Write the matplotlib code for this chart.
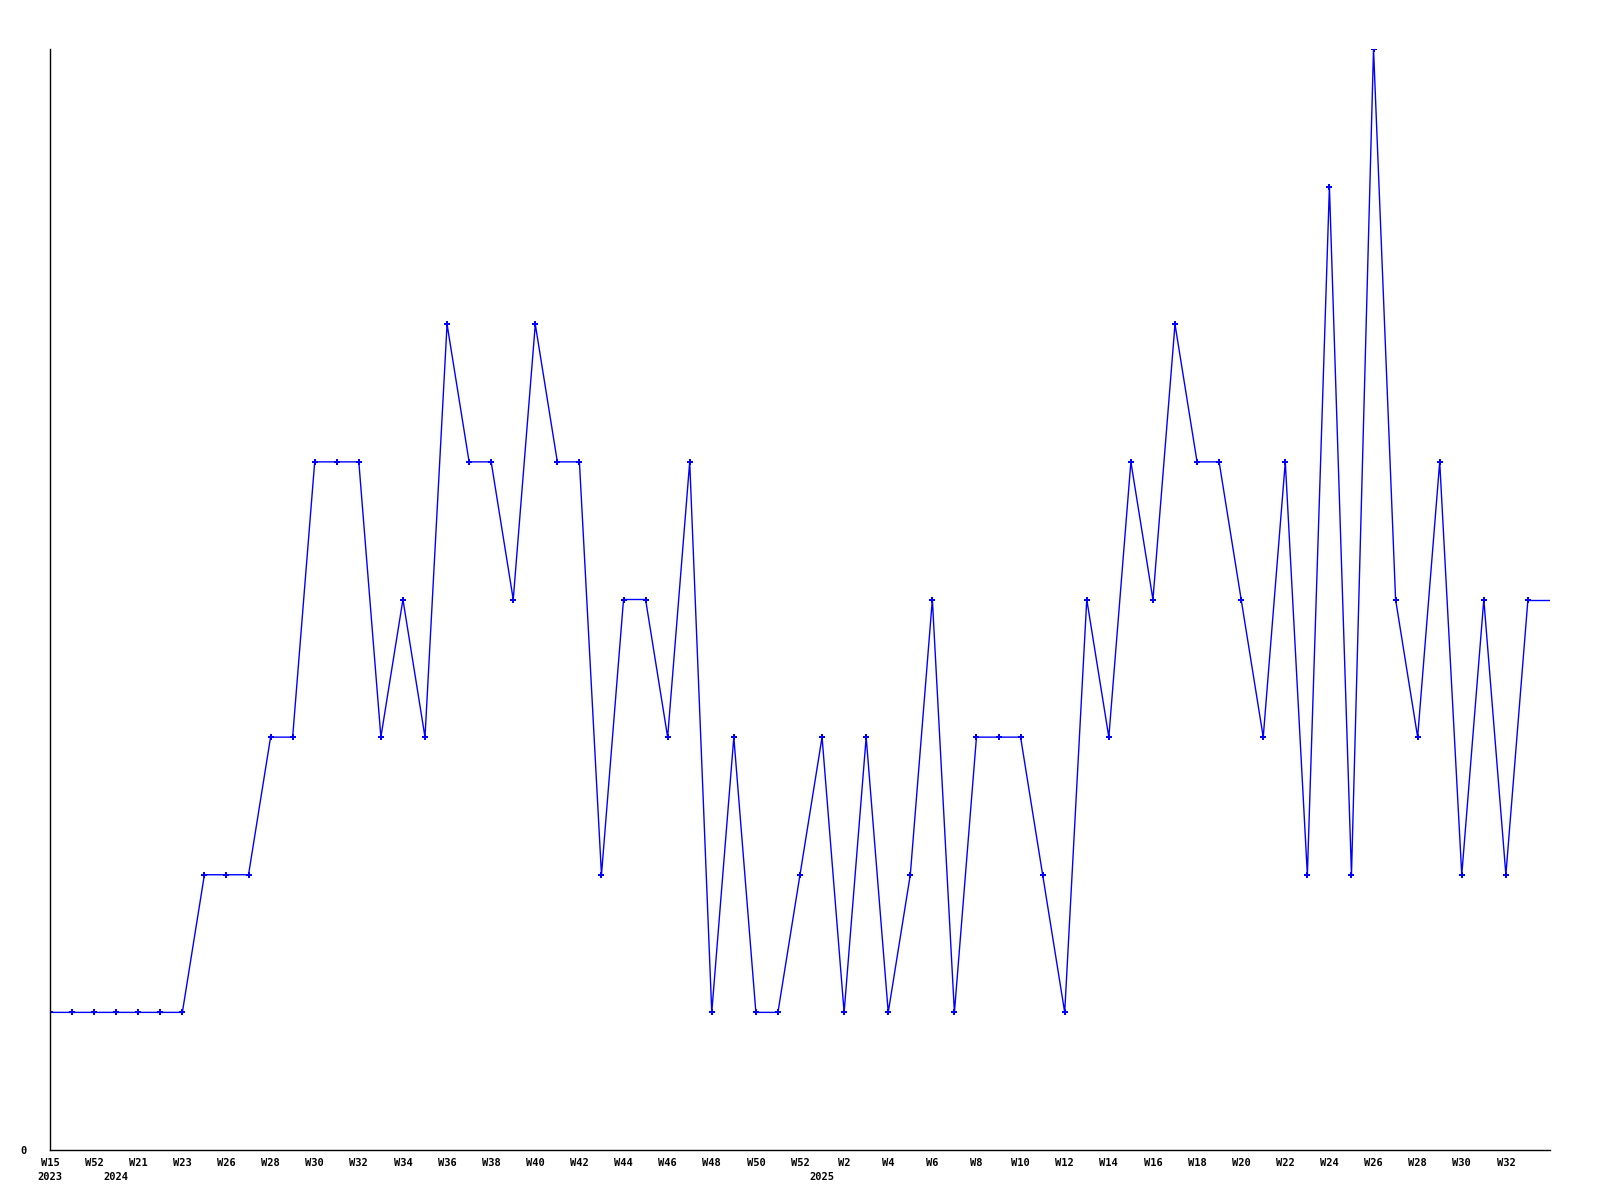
import matplotlib
matplotlib.use("Agg")
import matplotlib.pyplot as plt
from matplotlib.transforms import blended_transform_factory

# Weekly points (categorical x axis)
weeks = ["W15", "W40", "W52", "W20", "W21", "W22", "W23", "W25", "W26", "W27",
         "W28", "W29", "W30", "W31", "W32", "W33", "W34", "W35", "W36", "W37",
         "W38", "W39", "W40", "W41", "W42", "W43", "W44", "W45", "W46", "W47",
         "W48", "W49", "W50", "W51", "W52", "W1", "W2", "W3", "W4", "W5",
         "W6", "W7", "W8", "W9", "W10", "W11", "W12", "W13", "W14", "W15",
         "W16", "W17", "W18", "W19", "W20", "W21", "W22", "W23", "W24", "W25",
         "W26", "W27", "W28", "W29", "W30", "W31", "W32", "W33"]
values = [1, 1, 1, 1, 1, 1, 1, 2, 2, 2,
          3, 3, 5, 5, 5, 3, 4, 3, 6, 5,
          5, 4, 6, 5, 5, 2, 4, 4, 3, 5,
          1, 3, 1, 1, 2, 3, 1, 3, 1, 2,
          4, 1, 3, 3, 3, 2, 1, 4, 3, 5,
          4, 6, 5, 5, 4, 3, 5, 2, 7, 2,
          8, 4, 3, 5, 2, 4, 2, 4]
year_labels = ["2023", "2024", "2025"]
year_starts = [0, 3, 35]

fig = plt.figure(figsize=(16, 12), dpi=100)
ax = fig.add_axes([50 / 1600, 50 / 1200, 1500 / 1600, 1101 / 1200])

x = list(range(len(values)))
ax.plot(x, values, color="#0000ff", linewidth=1.0, marker="P", markersize=4,
        markeredgewidth=0)
# line continues flat to the right edge
ax.plot([x[-1], x[-1] + 1], [values[-1], values[-1]], color="#0000ff", linewidth=1.0)

ax.set_xlim(0, len(values))
ax.set_ylim(0, max(values))

for s in ["top", "right"]:
    ax.spines[s].set_visible(False)
for s in ["left", "bottom"]:
    ax.spines[s].set_linewidth(1.0)
    ax.spines[s].set_color("black")

font = dict(family="DejaVu Sans Mono", weight="bold", size=7.5)

ax.set_xticks(x[::2])
ax.set_xticklabels(weeks[::2], **font)
ax.tick_params(axis="x", length=0, pad=6)
ax.set_yticks([0])
ax.set_yticklabels(["0"], **font)
ax.tick_params(axis="y", length=0, pad=17)

trans = blended_transform_factory(ax.transData, ax.transAxes)
for lab, pos in zip(year_labels, year_starts):
    ax.text(pos, -0.0245, lab, transform=trans, ha="center", va="center", **font)

fig.savefig("out.png", dpi=100)
